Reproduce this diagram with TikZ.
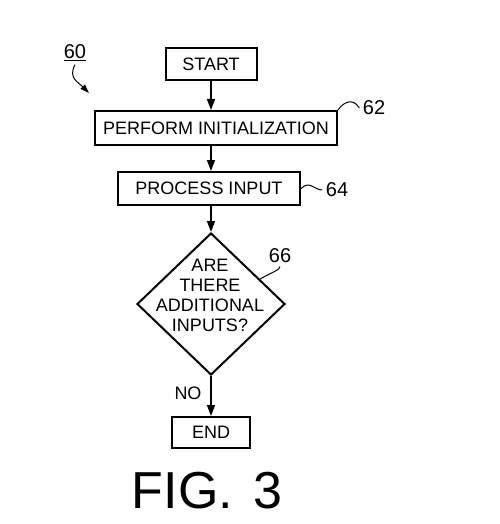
\documentclass[tikz,border=0pt]{standalone}
\usepackage{fontspec}
\setmainfont{Liberation Sans}
\usetikzlibrary{shapes.geometric,arrows.meta}
\begin{document}
\begin{tikzpicture}[x=1pt,y=-1pt,
	box/.style={draw,line width=2pt,inner sep=0pt,font=\fontsize{18}{20}\selectfont},
	refnum/.style={font=\fontsize{20}{22}\selectfont},
	flow/.style={line width=1.5pt,-{Triangle[length=11pt,width=8pt]}},
	lead/.style={line width=1pt}]
	\useasboundingbox (0,0) rectangle (499,524);
	\node[box,minimum width=242pt,minimum height=34pt] (init) at (216,128) {PERFORM INITIALIZATION};
	\node[box,minimum width=91pt,minimum height=32pt] (start) at (211,64) {START};
	\node[box,minimum width=182pt,minimum height=33pt] (proc) at (209,188.5) {PROCESS INPUT};
	\node[draw,diamond,line width=2pt,inner sep=0pt,minimum width=148pt,minimum height=142pt] (dec) at (211,304) {};
	\node[align=center,font=\fontsize{18}{20}\selectfont] (decq) at (210,295) {ARE\\THERE\\ADDITIONAL\\INPUTS?};
	\node[box,minimum width=78pt,minimum height=31pt] (end) at (211,432.5) {END};
	\node[font=\fontsize{18}{20}\selectfont] (no) at (188,393) {NO};
	\node[font=\fontsize{52}{52}\selectfont] (fig) at (207,491) {FIG.\hspace{20pt}3};
	% reference numerals
	\node[refnum] (n60) at (75,53) {\underline{60}};
	\coordinate (p60) at (89,93);
	\node[refnum] (n62) at (374,108) {62};
	\node[refnum] (n64) at (337,190) {64};
	\node[refnum] (n66) at (280,256) {66};
	% flow
	\draw[flow] (start.south) -- (start.south |- init.north);
	\draw[flow] (init.south -| start.south) -- (start.south |- proc.north);
	\draw[flow] (proc.south -| dec.north) -- (dec.north);
	\draw[flow] (dec.south) -- (end.north);
	% leaders
	\draw[lead,-{Triangle[length=9pt,width=6pt]}] (n60.south) .. controls (68,78) and (78,82) .. (p60);
	\draw[lead] (init.north east) .. controls (342,104) and (352,96) .. (n62.west);
	\draw[lead] (proc.east) .. controls (310,180) and (314,190) .. (n64.west);
	\draw[lead] (dec.27) .. controls (272,272) and (280,270) .. (n66.south);
\end{tikzpicture}
\end{document}
